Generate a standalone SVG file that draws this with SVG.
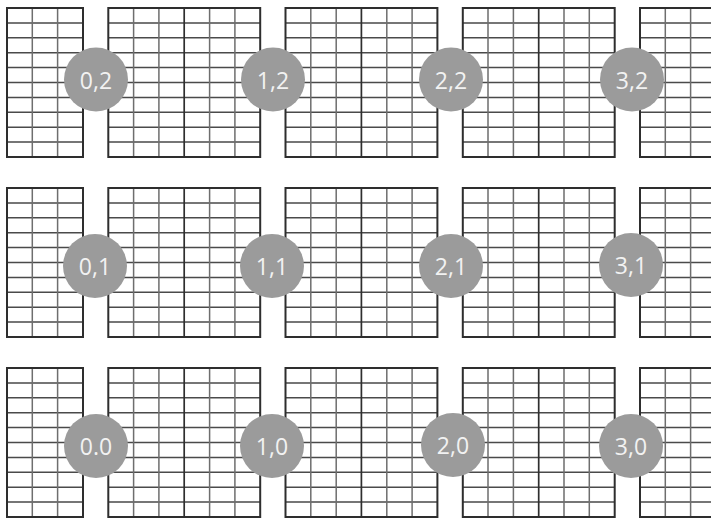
<svg xmlns="http://www.w3.org/2000/svg" xmlns:xlink="http://www.w3.org/1999/xlink" width="711" height="519" viewBox="0 0 711 519">
  <style>
    .h { stroke: #4a4a4a; stroke-width: 1.5; fill: none; }
    .v { stroke: #6e6e6e; stroke-width: 1.5; fill: none; }
    .d { stroke: #2e2e2e; stroke-width: 1.7; fill: none; }
    .b { stroke: #2e2e2e; stroke-width: 2; fill: none; }
    .n circle { fill: #9b9b9b; }
    .n text { fill: #f2f2f2; font-family: "Open Sans", "Liberation Sans", sans-serif; font-size: 23px; text-anchor: middle; dominant-baseline: central; }
  </style>
  <defs>
    <g id="row">
      <path class="h" d="M7 14.9h76m-76 14.9h76m-76 14.9h76m-76 14.9h76m-76 14.9h76m-76 14.9h76m-76 14.9h76m-76 14.9h76m-76 14.9h76"/>
      <path class="h" d="M108.3 14.9h151.9m-151.9 14.9h151.9m-151.9 14.9h151.9m-151.9 14.9h151.9m-151.9 14.9h151.9m-151.9 14.9h151.9m-151.9 14.9h151.9m-151.9 14.9h151.9m-151.9 14.9h151.9"/>
      <path class="h" d="M285.5 14.9h151.9m-151.9 14.9h151.9m-151.9 14.9h151.9m-151.9 14.9h151.9m-151.9 14.9h151.9m-151.9 14.9h151.9m-151.9 14.9h151.9m-151.9 14.9h151.9m-151.9 14.9h151.9"/>
      <path class="h" d="M462.8 14.9h151.9m-151.9 14.9h151.9m-151.9 14.9h151.9m-151.9 14.9h151.9m-151.9 14.9h151.9m-151.9 14.9h151.9m-151.9 14.9h151.9m-151.9 14.9h151.9m-151.9 14.9h151.9"/>
      <path class="h" d="M640 14.9h80m-80 14.9h80m-80 14.9h80m-80 14.9h80m-80 14.9h80m-80 14.9h80m-80 14.9h80m-80 14.9h80m-80 14.9h80"/>
      <path class="v" d="M32.3 0v149M57.6 0v149M133.6 0v149M158.9 0v149M209.6 0v149M234.9 0v149M310.8 0v149M336.2 0v149M386.8 0v149M412.1 0v149M488 0v149M513.4 0v149M564 0v149M589.3 0v149M665.3 0v149M690.6 0v149"/>
      <path class="d" d="M184.2 0v149M361.4 0v149M538.7 0v149"/>
      <rect class="b" x="7" y="0" width="76" height="149"/>
      <rect class="b" x="108.3" y="0" width="151.9" height="149"/>
      <rect class="b" x="285.5" y="0" width="151.9" height="149"/>
      <rect class="b" x="462.8" y="0" width="151.9" height="149"/>
      <rect class="b" x="640" y="0" width="80" height="149"/>
    </g>
  </defs>
  <rect width="711" height="519" fill="#fff"/>
  <g id="grids">
    <use xlink:href="#row" transform="translate(0,8)"/>
    <use xlink:href="#row" transform="translate(0,188)"/>
    <use xlink:href="#row" transform="translate(0,368)"/>
  </g>
  <g id="connectors"></g>
  <g id="n02" class="n"><circle cx="96" cy="79.5" r="32"/><text x="96" y="79.5">0,2</text></g>
  <g id="n12" class="n"><circle cx="273" cy="79.5" r="32"/><text x="273" y="79.5">1,2</text></g>
  <g id="n22" class="n"><circle cx="451" cy="79.5" r="32"/><text x="451" y="79.5">2,2</text></g>
  <g id="n32" class="n"><circle cx="632" cy="79.5" r="32"/><text x="632" y="79.5">3,2</text></g>
  <g id="n01" class="n"><circle cx="95" cy="266" r="32"/><text x="95" y="266">0,1</text></g>
  <g id="n11" class="n"><circle cx="272" cy="266" r="32"/><text x="272" y="266">1,1</text></g>
  <g id="n21" class="n"><circle cx="451" cy="266" r="32"/><text x="451" y="266">2,1</text></g>
  <g id="n31" class="n"><circle cx="631" cy="265" r="32"/><text x="631" y="265">3,1</text></g>
  <g id="n00" class="n"><circle cx="96" cy="446" r="32"/><text x="96" y="446">0.0</text></g>
  <g id="n10" class="n"><circle cx="272" cy="446" r="32"/><text x="272" y="446">1,0</text></g>
  <g id="n20" class="n"><circle cx="453" cy="445" r="32"/><text x="453" y="445">2,0</text></g>
  <g id="n30" class="n"><circle cx="631" cy="446" r="32"/><text x="631" y="446">3,0</text></g>
</svg>
